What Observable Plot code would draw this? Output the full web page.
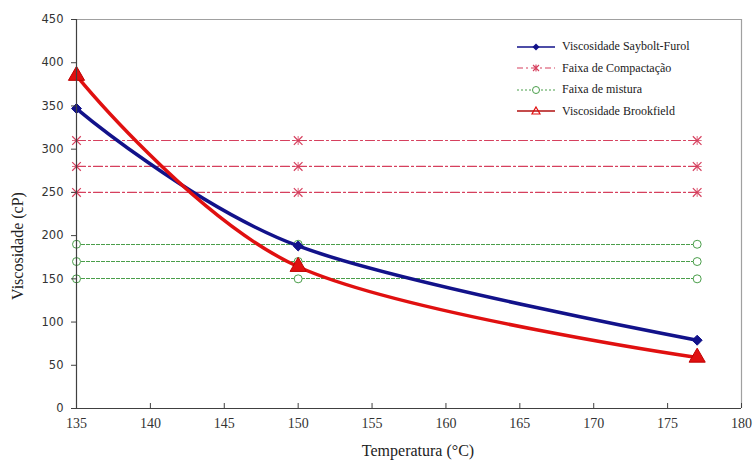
<!DOCTYPE html>
<html>
<head>
<meta charset="utf-8">
<script src="https://cdn.jsdelivr.net/npm/d3@7"></script>
<script src="https://cdn.jsdelivr.net/npm/@observablehq/plot@0.6"></script>
<style>
  body { margin: 0; background: #fff; }
  #wrap { position: relative; width: 753px; height: 463px; overflow: hidden; }
  .title { position: absolute; font-family: "Liberation Serif", serif; font-size: 16px; color: #222; white-space: nowrap; }
  #legend { position: absolute; left: 515px; top: 36px; font-family: "Liberation Serif", serif; font-size: 12px; color: #1a1a1a; }
  #legend .row { display: flex; align-items: center; height: 21.5px; }
  #legend svg { margin-right: 5px; }
</style>
</head>
<body>
<div id="wrap"></div>
<script>
// Data
const temperaturas = [135, 150, 177];
const sayboltFurol = [347, 188, 79];
const brookfield = [385, 164, 59];
const faixaCompactacao = [310, 280, 250];
const faixaMistura = [190, 170, 150];
const xTicks = [135, 140, 145, 150, 155, 160, 165, 170, 175, 180];
const yTicks = [0, 50, 100, 150, 200, 250, 300, 350, 400, 450];
const legendLabels = ["Viscosidade Saybolt-Furol", "Faixa de Compactação", "Faixa de mistura", "Viscosidade Brookfield"];

const colBlue = "#12128a";
const colRed = "#e01010";
const colComp = "#d6405e";
const colMist = "#4a9e4a";

const sf = temperaturas.map((t, i) => ({t, v: sayboltFurol[i]}));
const bf = temperaturas.map((t, i) => ({t, v: brookfield[i]}));
const comp = faixaCompactacao.flatMap(lv => temperaturas.map(t => ({t, v: lv, level: lv})));
const mist = faixaMistura.flatMap(lv => temperaturas.map(t => ({t, v: lv, level: lv})));

const chart = Plot.plot({
  width: 753,
  height: 463,
  marginLeft: 76,
  marginRight: 12,
  marginTop: 19,
  marginBottom: 55,
  x: {domain: [135, 180]},
  y: {domain: [0, 450]},
  marks: [
    Plot.ruleY([450], {stroke: "#a0a0a0", strokeWidth: 1.2}),
    Plot.ruleX([180], {stroke: "#a0a0a0", strokeWidth: 1.2}),
    Plot.line(mist, {x: "t", y: "v", z: "level", stroke: colMist, strokeWidth: 1, strokeDasharray: "3,2", shapeRendering: "crispEdges"}),
    Plot.dot(mist, {x: "t", y: "v", r: 4, stroke: colMist, fill: "white", strokeWidth: 1}),
    Plot.line(comp, {x: "t", y: "v", z: "level", stroke: colComp, strokeWidth: 1.2, strokeDasharray: "9,3,2,3"}),
    Plot.dot(comp, {x: "t", y: "v", r: 4, symbol: "times", stroke: colComp, strokeWidth: 1.2}),
    Plot.dot(comp, {x: "t", y: "v", r: 3, symbol: "plus", stroke: colComp, strokeWidth: 0.8}),
    Plot.line(sf, {x: "t", y: "v", curve: "cardinal", stroke: colBlue, strokeWidth: 3.5}),
    Plot.dot(sf, {x: "t", y: "v", r: 4.5, symbol: "diamond2", fill: colBlue, stroke: colBlue, strokeWidth: 1}),
    Plot.line(bf, {x: "t", y: "v", curve: "cardinal", stroke: colRed, strokeWidth: 3.5}),
    Plot.dot(bf, {x: "t", y: "v", r: 6, symbol: "triangle", fill: colRed, stroke: "#c00000", strokeWidth: 1}),
    Plot.ruleX([135], {stroke: "#404040", strokeWidth: 1.2}),
    Plot.ruleY([0], {stroke: "#404040", strokeWidth: 1.2}),
    Plot.axisY({ticks: yTicks, tickSize: 5, tickPadding: 8, stroke: "#404040", label: null,
      fontFamily: "DejaVu Sans, sans-serif", fontSize: 11.5, fill: "#333"}),
    Plot.axisX({ticks: xTicks, tickSize: -5, tickPadding: 15, stroke: "#404040", label: null,
      fontFamily: "Liberation Serif, serif", fontSize: 14, fill: "#333"})
  ]
});

const wrap = document.getElementById("wrap");
wrap.appendChild(chart);

const xt = document.createElement("div");
xt.className = "title";
xt.textContent = "Temperatura (°C)";
xt.style.left = "418px"; xt.style.top = "442px"; xt.style.transform = "translateX(-50%)";
wrap.appendChild(xt);

const yt = document.createElement("div");
yt.className = "title";
yt.textContent = "Viscosidade (cP)";
yt.style.left = "18px"; yt.style.top = "246px"; yt.style.transform = "translate(-50%, -50%) rotate(-90deg)";
wrap.appendChild(yt);

// Legend
const legend = document.createElement("div");
legend.id = "legend";
const swatches = [
  `<line x1="2" y1="7" x2="40" y2="7" stroke="${colBlue}" stroke-width="1.5"/><path d="M21 3.5 L24.5 7 L21 10.5 L17.5 7Z" fill="${colBlue}"/>`,
  `<line x1="2" y1="7" x2="40" y2="7" stroke="${colComp}" stroke-width="1.2" stroke-dasharray="6,3,2,3"/><path d="M18 4 L24 10 M24 4 L18 10 M21 3.5 L21 10.5" stroke="${colComp}" stroke-width="1.1"/>`,
  `<line x1="2" y1="7" x2="40" y2="7" stroke="${colMist}" stroke-width="1" stroke-dasharray="2,2"/><circle cx="21" cy="7" r="3.5" fill="white" stroke="${colMist}"/>`,
  `<line x1="2" y1="7" x2="40" y2="7" stroke="#b01010" stroke-width="1.5"/><path d="M21 3 L25 10 L17 10Z" fill="none" stroke="${colRed}" stroke-width="1.2"/>`
];
legendLabels.forEach((lab, i) => {
  const row = document.createElement("div");
  row.className = "row";
  row.innerHTML = `<svg width="42" height="14">${swatches[i]}</svg><span>${lab}</span>`;
  legend.appendChild(row);
});
wrap.appendChild(legend);
</script>
</body>
</html>
